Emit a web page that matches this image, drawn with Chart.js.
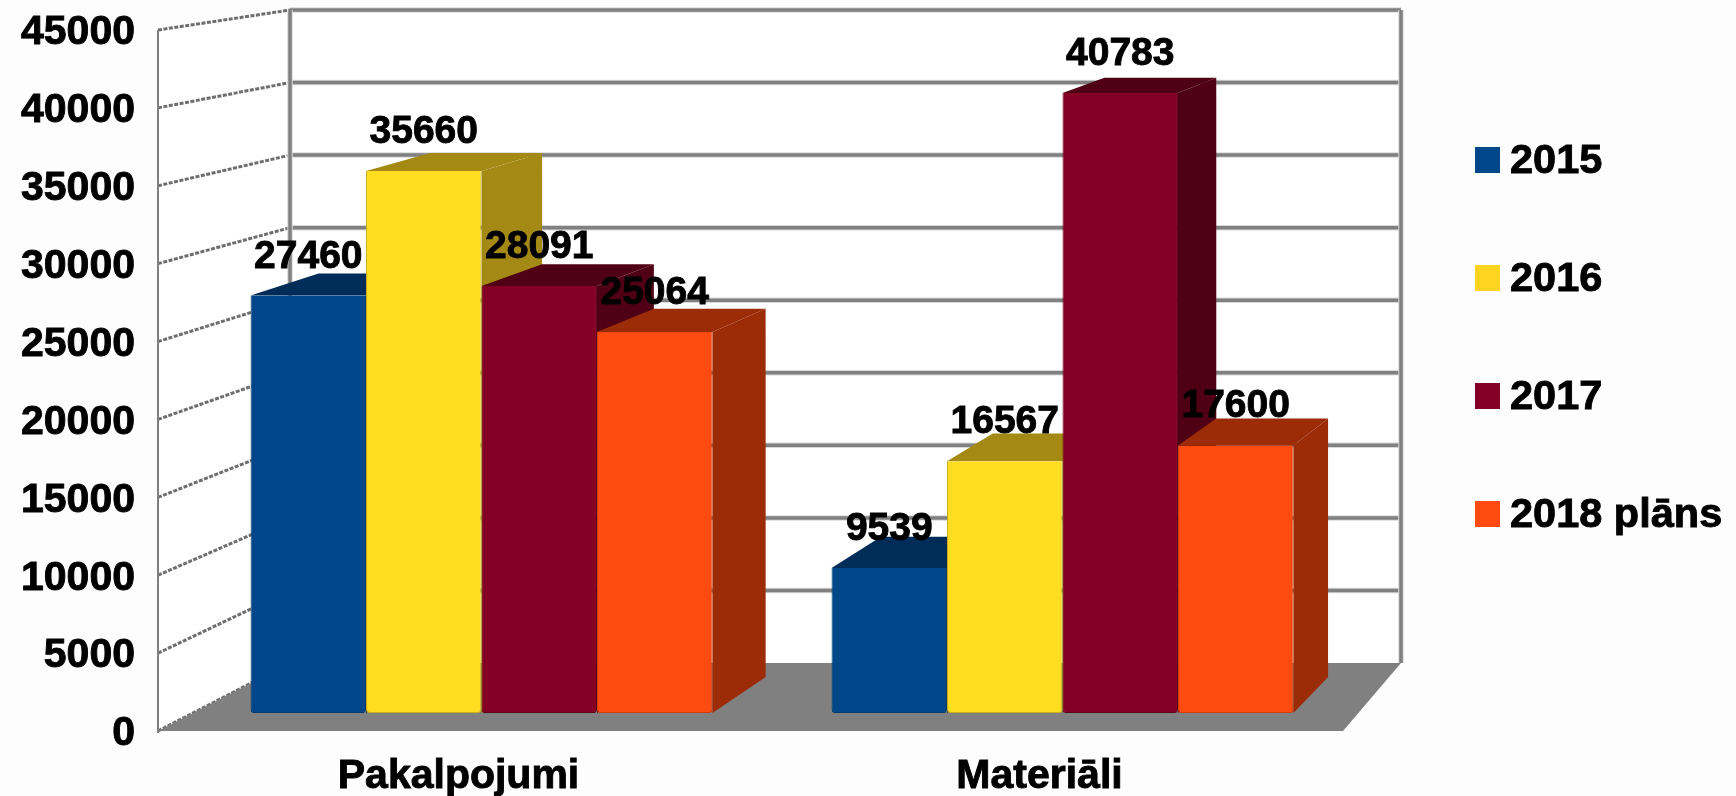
<!DOCTYPE html>
<html>
<head>
<meta charset="utf-8">
<script src="https://cdn.jsdelivr.net/npm/chart.js@4"></script>
<style>
  html, body { margin: 0; padding: 0; background: #fdfdfd; }
  #wrap { width: 1736px; height: 796px; }
</style>
</head>
<body>
<div id="wrap"><canvas id="c" width="1736" height="796"></canvas></div>
<script>
const categories = ['Pakalpojumi', 'Materiāli'];
const years = ['2015', '2016', '2017', '2018 plāns'];
const values2015 = [27460, 9539];
const values2016 = [35660, 16567];
const values2017 = [28091, 40783];
const values2018 = [25064, 17600];

const frontColors = ['#00478a', '#ffde21', '#840024', '#ff4a10'];
const edgeColors = ['#003a70', '#c9ae1c', '#5e001a', '#d23c0c'];
const darkColors = ['#002c5a', '#a48a14', '#500014', '#9c2b08'];
const legendColors = ['#00478a', '#ffd41e', '#840024', '#ff4a10'];
const FONT = '"Liberation Sans", Arial, sans-serif';

// depth of the fake 3d box, shrinks towards the right and towards the top
function depth(x, y) {
  return { dx: 76 - 0.032 * x, dy: 36 - (713 - y) * 0.0335 };
}

function poly(ctx, pts, color) {
  ctx.fillStyle = color;
  ctx.beginPath();
  pts.forEach((p, i) => i ? ctx.lineTo(p[0], p[1]) : ctx.moveTo(p[0], p[1]));
  ctx.closePath();
  ctx.fill();
}

function gridLine(ctx, x1, y1, x2, y2) {
  ctx.strokeStyle = '#d8d8d8';
  ctx.lineWidth = 5.5;
  ctx.beginPath(); ctx.moveTo(x1, y1); ctx.lineTo(x2, y2); ctx.stroke();
  ctx.strokeStyle = '#808080';
  ctx.lineWidth = 3.5;
  ctx.beginPath(); ctx.moveTo(x1, y1); ctx.lineTo(x2, y2); ctx.stroke();
}

// bold text with a thin outline, the original is a heavy blurred Arial
function heavyText(ctx, text, x, y) {
  ctx.strokeStyle = '#000';
  ctx.lineWidth = 0.9;
  ctx.strokeText(text, x, y);
  ctx.fillText(text, x, y);
}

const box3d = {
  id: 'box3d',
  beforeDatasetsDraw(chart) {
    const ctx = chart.ctx;
    const axis = chart.scales.yAxis;
    const wall = chart.scales.yWall;
    const fx = chart.chartArea.left - 33;   // front edge of side wall
    const bx = chart.chartArea.left + 99;   // back corner
    const rx = chart.chartArea.right + 48;  // back right corner
    const frx = chart.chartArea.right - 10; // front right corner of floor
    const top = wall.getPixelForValue(45000);
    const floorBack = wall.getPixelForValue(0);
    const floorFront = axis.getPixelForValue(0);

    ctx.save();
    poly(ctx, [[fx, axis.getPixelForValue(45000)], [bx, top], [rx, top], [rx, floorBack], [frx, floorFront], [fx, floorFront]], '#ffffff');

    axis.ticks.forEach(t => {
      const by = wall.getPixelForValue(t.value);
      if (t.value > 0) gridLine(ctx, bx, by, rx, by);
      ctx.strokeStyle = '#6e6e6e';
      ctx.lineWidth = 3;
      ctx.setLineDash([4, 1.5]);
      ctx.beginPath();
      ctx.moveTo(fx, axis.getPixelForValue(t.value));
      ctx.lineTo(bx, by);
      ctx.stroke();
      ctx.setLineDash([]);
    });

    poly(ctx, [[fx, floorFront], [bx, floorBack], [rx, floorBack], [frx, floorFront]], '#808080');
    gridLine(ctx, bx, top, bx, floorBack);
    gridLine(ctx, rx, top, rx, floorBack);
    ctx.strokeStyle = '#808080';
    ctx.lineWidth = 2;
    ctx.beginPath();
    ctx.moveTo(fx, axis.getPixelForValue(45000));
    ctx.lineTo(fx, floorFront + 2);
    ctx.stroke();

    // top and side faces, left to right so later bars cover earlier ones
    categories.forEach((_, i) => {
      chart.data.datasets.forEach((ds, d) => {
        const bar = chart.getDatasetMeta(d).data[i];
        const l = bar.x - bar.width / 2, r = bar.x + bar.width / 2;
        const dl = depth(l, bar.y), dr = depth(r, bar.y), db = depth(r, bar.base);
        poly(ctx, [[r, bar.y], [r + dr.dx, bar.y - dr.dy], [r + db.dx, bar.base - db.dy], [r, bar.base]], darkColors[d]);
        poly(ctx, [[l, bar.y], [l + dl.dx, bar.y - dl.dy], [r + dr.dx, bar.y - dr.dy], [r, bar.y]], darkColors[d]);
      });
    });
    ctx.restore();
  },
  afterDatasetsDraw(chart) {
    const ctx = chart.ctx;
    ctx.save();
    ctx.fillStyle = '#000';
    ctx.font = 'bold 39px ' + FONT;
    ctx.textAlign = 'center';
    ctx.textBaseline = 'alphabetic';
    chart.data.datasets.forEach((ds, d) => {
      chart.getDatasetMeta(d).data.forEach((bar, i) => {
        heavyText(ctx, String(ds.data[i]), bar.x, bar.y - 28);
      });
    });

    // legend: library one can't do the tight swatch/text gap of the original
    ctx.font = 'bold 41.5px ' + FONT;
    ctx.textAlign = 'left';
    ctx.textBaseline = 'middle';
    chart.data.datasets.forEach((ds, d) => {
      const y = 160 + d * 118;
      ctx.fillStyle = legendColors[d];
      ctx.fillRect(1475, y - 13, 25, 26);
      ctx.fillStyle = '#000';
      heavyText(ctx, ds.label, 1510, y + 2);
    });
    ctx.restore();
  }
};

new Chart(document.getElementById('c'), {
  type: 'bar',
  data: {
    labels: categories,
    datasets: [values2015, values2016, values2017, values2018].map((v, i) => ({
      label: years[i],
      data: v,
      backgroundColor: frontColors[i],
      borderColor: edgeColors[i],
      borderWidth: { left: 1, right: 1, top: 0, bottom: 1 },
      borderRadius: { bottomLeft: 3, bottomRight: 3 },
      borderSkipped: false,
      yAxisID: 'y'
    }))
  },
  plugins: [box3d],
  options: {
    responsive: false,
    animation: false,
    layout: { padding: { top: 30, right: 383, left: 0, bottom: 0 } },
    categoryPercentage: 0.795,
    barPercentage: 1,
    plugins: { legend: { display: false }, tooltip: { enabled: false } },
    scales: {
      x: {
        grid: { display: false, drawTicks: false },
        border: { display: false },
        afterFit(s) { s.height = 65; s.paddingLeft = 0; s.paddingRight = 0; },
        ticks: {
          font: { family: FONT, size: 41, weight: 'bold' },
          color: '#000',
          padding: 21,
          labelOffset: -23,
          maxRotation: 0,
          textStrokeWidth: 0.9,
          textStrokeColor: '#000'
        }
      },
      // visible axis on the front edge of the side wall
      yAxis: {
        position: 'left',
        min: 0,
        max: 45000,
        grid: { display: false, drawTicks: false },
        border: { display: false },
        afterFit(s) { s.width = 191; s.paddingTop = 0; s.paddingBottom = 0; },
        ticks: {
          stepSize: 5000,
          padding: 56,
          labelOffset: 3,
          font: { family: FONT, size: 41, weight: 'bold' },
          color: '#000',
          textStrokeWidth: 0.9,
          textStrokeColor: '#000',
          callback: v => String(v)
        }
      },
      // bars stand a bit behind the axis, so their scale is slightly shorter
      y: { display: false, position: 'left', min: -1184, max: 44934 },
      // back wall, further back still
      yWall: { display: false, position: 'left', min: -4686, max: 43622 }
    }
  }
});
</script>
</body>
</html>
